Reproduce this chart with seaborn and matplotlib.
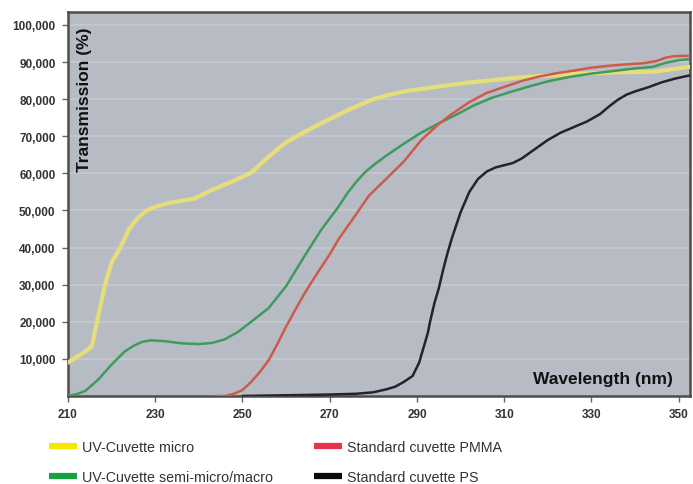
import numpy as np
import pandas as pd
import seaborn as sns
import matplotlib
matplotlib.use("Agg")
import matplotlib.pyplot as plt
from matplotlib.lines import Line2D

# ---------------- data ----------------
series_names = ["UV-Cuvette micro", "UV-Cuvette semi-micro/macro",
                "Standard cuvette PMMA", "Standard cuvette PS"]

micro_x = [210, 212, 214, 215.5, 217, 218.5, 220, 222, 224, 226, 228, 230, 233, 236, 239,
           242, 245, 248, 252, 256, 260, 264, 268, 272, 276, 280, 284, 288, 292, 296,
           302, 308, 314, 320, 326, 332, 338, 344, 348, 352.5]
micro_y = [9, 10.5, 12, 13.5, 22, 30, 36, 40, 45, 48, 50, 51, 52, 52.6, 53.2,
           55, 56.5, 58, 60.2, 64.5, 68.4, 71, 73.5, 75.8, 78, 80, 81.3, 82.3, 82.9, 83.6,
           84.5, 85.2, 85.9, 86.4, 86.8, 87.1, 87.3, 87.4, 88, 88.7]

semi_x = [210, 212, 214, 217, 220, 223, 225, 227, 229, 232, 236, 240, 243, 246, 249,
          252, 256, 260, 264, 268, 272, 274, 276, 278, 280, 283, 287, 291, 295, 299,
          303, 307, 311, 315, 320, 325, 330, 335, 340, 344, 347, 350, 352.5]
semi_y = [0, 0.5, 1.4, 4.5, 8.5, 12, 13.5, 14.6, 15, 14.8, 14.2, 14, 14.3, 15.3, 17.3,
          20, 23.7, 29.6, 37.3, 44.7, 51, 54.6, 57.6, 60.2, 62.2, 64.8, 68, 71, 73.5, 75.8,
          78.3, 80.3, 81.8, 83.2, 84.8, 86, 86.9, 87.6, 88.3, 88.7, 89.8, 90.5, 90.8]

pmma_x = [244, 246, 248, 250, 252, 254, 256, 258, 260, 262, 264, 266, 268, 270, 272,
          275, 279, 283, 287, 291, 295, 298, 302, 306, 310, 314, 318, 322, 326,
          330, 334, 338, 342, 345, 347, 349, 352.5]
pmma_y = [0, 0, 0.6, 1.6, 3.8, 6.5, 9.6, 14, 18.7, 23, 27.2, 31, 34.6, 38.2, 42.2,
          47.2, 54, 58.6, 63.2, 69, 73.3, 76, 79.2, 81.7, 83.3, 84.9, 86.1, 87, 87.7,
          88.5, 89, 89.4, 89.7, 90.3, 91.2, 91.6, 91.7]

ps_x = [250, 260, 270, 276, 280, 283, 285, 287, 289, 290.5, 291.5, 292.5, 293, 294, 295,
        296, 297, 298, 300, 302, 304, 306, 308, 310, 312, 314, 317, 320, 323, 326,
        329, 332, 334, 336, 338, 340, 343, 346, 349, 352.5]
ps_y = [0, 0.2, 0.4, 0.6, 1, 1.8, 2.5, 3.8, 5.4, 9, 13, 17, 20, 25, 29,
        34, 38.5, 42.5, 49.5, 55, 58.5, 60.5, 61.6, 62.2, 62.8, 64, 66.5, 69, 71, 72.5,
        74, 76, 78, 79.8, 81.2, 82.1, 83.2, 84.5, 85.5, 86.4]

x_ticks = [210, 230, 250, 270, 290, 310, 330, 350]
y_ticks = [10, 20, 30, 40, 50, 60, 70, 80, 90, 100]
y_tick_labels = ["10,000", "20,000", "30,000", "40,000", "50,000",
                 "60,000", "70,000", "80,000", "90,000", "100,000"]

# ---------------- styling ----------------
line_colors = ["#e6de7a", "#3f9a5e", "#cf5a4c", "#23242a"]
legend_colors = ["#f7e600", "#17a23f", "#e8344a", "#0a0a0a"]
line_widths = [3.0, 1.8, 1.8, 1.8]

sns.set_theme(style="white")
plt.rcParams["font.family"] = ["Liberation Sans", "DejaVu Sans"]

fig = plt.figure(figsize=(6.93, 4.85), dpi=100)
ax = fig.add_axes([68 / 693, 1 - 397 / 485, 622 / 693, 384 / 485])
ax.set_facecolor("#b7bcc4")

for yv in y_ticks:
    ax.axhline(yv, color="#c6cacf", lw=1.2, zorder=0.5)

data = [(micro_x, micro_y), (semi_x, semi_y), (pmma_x, pmma_y), (ps_x, ps_y)]
draw_order = [1, 2, 3, 0]
for i in draw_order:
    xs, ys = data[i]
    df = pd.DataFrame({"Wavelength": xs, "Transmission": ys})
    sns.lineplot(data=df, x="Wavelength", y="Transmission", ax=ax,
                 color=line_colors[i], lw=line_widths[i], legend=False, zorder=3 + i)

ax.set_xlim(210, 352.6)
ax.set_ylim(0, 103.5)
ax.set_xticks(x_ticks)
ax.set_xticklabels([str(t) for t in x_ticks])
ax.set_yticks(y_ticks)
ax.set_yticklabels(y_tick_labels)
ax.set_xlabel("")
ax.set_ylabel("")

for s in ax.spines.values():
    s.set_color("#4d4d4d")
    s.set_linewidth(1.8)

ax.tick_params(axis="both", direction="out", length=4, width=1, color="#666666",
               labelcolor="#333333", pad=5, left=True, bottom=True)
for lab in ax.get_xticklabels() + ax.get_yticklabels():
    lab.set_fontweight("bold")
    lab.set_fontsize(8.5)

ax.text(0.027, 0.962, "Transmission (%)", transform=ax.transAxes, rotation=90,
        ha="center", va="top", fontsize=12.5, fontweight="bold", color="#111111")
ax.text(0.972, 0.045, "Wavelength (nm)", transform=ax.transAxes,
        ha="right", va="center", fontsize=12.5, fontweight="bold", color="#111111")

handles = [Line2D([0], [0], color=c, lw=4.5, solid_capstyle="butt") for c in legend_colors]
leg_kw = dict(loc="upper left", frameon=False,
              prop={"size": 10.3},
              handlelength=1.95, handletextpad=0.35,
              labelspacing=1.12, borderaxespad=0, borderpad=0)
leg1 = fig.legend(handles[:2], series_names[:2],
                  bbox_to_anchor=(49 / 693, 1 - 441 / 485), **leg_kw)
leg2 = fig.legend(handles[2:], series_names[2:],
                  bbox_to_anchor=(314 / 693, 1 - 441 / 485), **leg_kw)
for leg in (leg1, leg2):
    for t in leg.get_texts():
        t.set_color("#333333")

fig.savefig("out.png", dpi=100, facecolor="white")
